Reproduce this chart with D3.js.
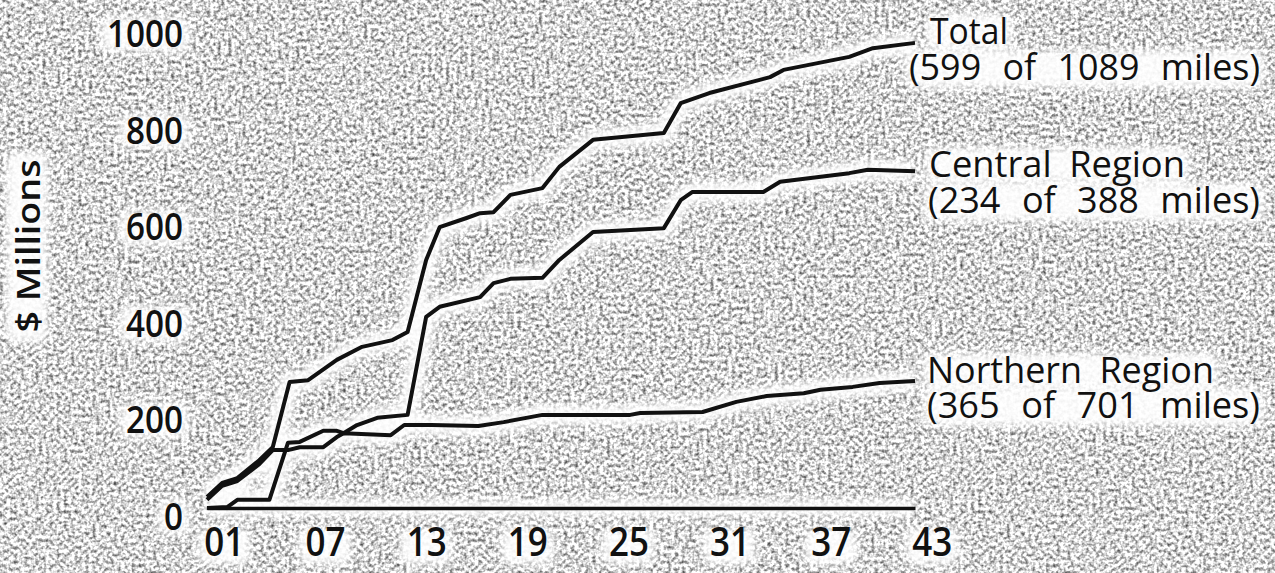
<!DOCTYPE html>
<html><head><meta charset="utf-8">
<script src="https://cdn.jsdelivr.net/npm/d3@7"></script>
<style>html,body{margin:0;padding:0;background:#d8d8d8;} svg{display:block}</style>
</head><body>
<svg id="chart" width="1275" height="573"></svg>
<script>
// ---- data ----
const xTicks = [1, 7, 13, 19, 25, 31, 37, 43];
const yTicks = [0, 200, 400, 600, 800, 1000];
const seriesNames = ["Total", "Central Region", "Northern Region"];
const seriesNotes = ["(599 of 1089 miles)", "(234 of 388 miles)", "(365 of 701 miles)"];
const yTitle = "$ Millions";

const totalSeries = [[0,23],[0.9,52],[1.8,62],[3.1,99],[3.9,126],[4.9,261],[6.0,265],[7.7,307],[9.2,334],[11.0,348],[11.9,365],[13.0,514],[13.8,582],[15.4,601],[16.2,611],[17.0,613],[18.0,649],[19.9,663],[20.9,707],[22.9,763],[27.1,777],[28.1,839],[29.8,860],[33.4,893],[34.2,908],[38.1,935],[39.5,953],[42.0,964]];
const centralSeries = [[0,0],[1.2,2],[1.8,17],[3.7,17],[4.8,135],[5.5,137],[6.9,160],[7.7,160],[8.1,155],[8.9,172],[10.1,187],[11.9,193],[13.0,396],[13.8,417],[16.2,437],[17.0,466],[18.0,475],[19.9,477],[20.9,514],[22.9,572],[27.1,580],[28.1,638],[28.8,655],[33.0,655],[34.0,676],[38.1,694],[39.2,701],[42.0,698]];
const northernSeries = [[0,17],[0.9,46],[1.8,56],[3.1,91],[3.9,120],[4.8,120],[5.5,126],[6.9,126],[7.7,147],[8.1,155],[10.9,151],[11.7,172],[13.3,172],[16.1,170],[17.6,178],[19.9,193],[25.1,193],[25.7,197],[29.4,199],[31.4,220],[33.2,232],[35.4,238],[36.4,245],[38.3,251],[39.9,259],[42.0,263]];

// ---- layout ----
const W = 1275, H = 573;
const svg = d3.select("#chart");
const x = d3.scaleLinear().domain([0, 42]).range([207, 915]);
const y = d3.scaleLinear().domain([0, 1000]).range([508, 25.5]);
const FONT = "'Open Sans','Noto Sans','DejaVu Sans',sans-serif";

const defs = svg.append("defs");
const nf = defs.append("filter").attr("id", "noise")
  .attr("filterUnits", "userSpaceOnUse").attr("x", 0).attr("y", 0).attr("width", W).attr("height", H)
  .attr("color-interpolation-filters", "sRGB");
nf.append("feTurbulence").attr("type", "fractalNoise").attr("baseFrequency", 0.28)
  .attr("numOctaves", 2).attr("seed", 11).attr("result", "t");
nf.append("feColorMatrix").attr("type", "matrix")
  .attr("values", "1.45 0 0 0 0.12  1.45 0 0 0 0.12  1.45 0 0 0 0.12  0 0 0 0 1");
const hf = defs.append("filter").attr("id", "halo")
  .attr("x", "-20%").attr("y", "-20%").attr("width", "140%").attr("height", "140%");
hf.append("feGaussianBlur").attr("stdDeviation", 4);

// background texture
svg.append("rect").attr("width", W).attr("height", H).attr("fill", "#d8d8d8");
svg.append("rect").attr("width", W).attr("height", H).attr("filter", "url(#noise)");

const haloLayer = svg.append("g").attr("filter", "url(#halo)").attr("opacity", 0.92);
const mainLayer = svg.append("g");

const line = d3.line().x(d => x(d[0])).y(d => y(d[1]));
const allSeries = [totalSeries, centralSeries, northernSeries];

// halos under lines and baseline
haloLayer.append("line").attr("x1", x(0)).attr("x2", x(42)).attr("y1", y(0)).attr("y2", y(0))
  .attr("stroke", "#fff").attr("stroke-width", 16);
allSeries.forEach(s => {
  haloLayer.append("path").attr("d", line(s)).attr("fill", "none")
    .attr("stroke", "#fff").attr("stroke-width", 20).attr("stroke-linejoin", "round");
});

// x axis
const xAxis = mainLayer.append("g").attr("transform", `translate(0,${y(0)})`)
  .call(d3.axisBottom(x).tickValues(xTicks).tickSize(0).tickPadding(20)
    .tickFormat(d => String(d).padStart(2, "0")));
xAxis.select(".domain").attr("stroke", "#111").attr("stroke-width", 3.5);
xAxis.selectAll("text").attr("font-family", FONT).attr("font-size", 40).attr("font-weight", 600)
  .attr("fill", "#111").attr("textLength", 40).attr("lengthAdjust", "spacingAndGlyphs");

// y axis
const yAxis = mainLayer.append("g").attr("transform", `translate(${x(0)},0)`)
  .call(d3.axisLeft(y).tickValues(yTicks).tickSize(0).tickPadding(24).tickFormat(d => String(d)));
yAxis.select(".domain").remove();
yAxis.selectAll("text").attr("font-family", FONT).attr("font-size", 37).attr("font-weight", 600)
  .attr("fill", "#111").attr("dy", 21)
  .attr("textLength", d => String(d).length * 19).attr("lengthAdjust", "spacingAndGlyphs");

function haloRect(x0, y0, w, h) {
  haloLayer.append("rect").attr("x", x0).attr("y", y0).attr("width", w).attr("height", h)
    .attr("rx", 8).attr("fill", "#fff");
}

// y title
mainLayer.append("text").text(yTitle)
  .attr("transform", "translate(40,246) rotate(-90)")
  .attr("font-family", FONT).attr("font-size", 33).attr("font-weight", 600).attr("fill", "#111")
  .attr("text-anchor", "middle").attr("textLength", 173).attr("lengthAdjust", "spacingAndGlyphs");
haloRect(6, 152, 42, 190);

// halos behind tick labels
xTicks.forEach(d => haloRect(x(d) - 26, y(0) + 20, 52, 36));
yTicks.forEach(d => {
  const w = String(d).length * 19 + 12;
  haloRect(189 - w, y(d) - 8, w, 34);
});

// series lines
allSeries.forEach(s => {
  mainLayer.append("path").attr("d", line(s)).attr("fill", "none")
    .attr("stroke", "#111").attr("stroke-width", 4).attr("stroke-linejoin", "round");
});

// right-hand labels: one text block per series, two lines
const labelLayout = [
  {nx: 930, ny: 44, px: 909, py: 80, nlen: 78, plen: 351},
  {nx: 929, ny: 177, px: 928, py: 213, nlen: 256, plen: 332},
  {nx: 927, ny: 383, px: 927, py: 418, nlen: 287, plen: 333}
];
seriesNames.forEach((name, i) => {
  const L = labelLayout[i];
  const t = mainLayer.append("text")
    .attr("font-family", FONT).attr("font-size", 36).attr("font-weight", 500).attr("fill", "#111");
  t.append("tspan").text(name).attr("x", L.nx).attr("y", L.ny).attr("word-spacing", 8)
    .attr("textLength", L.nlen).attr("lengthAdjust", "spacingAndGlyphs");
  t.append("tspan").text(seriesNotes[i]).attr("x", L.px).attr("y", L.py).attr("word-spacing", 12)
    .attr("textLength", L.plen).attr("lengthAdjust", "spacingAndGlyphs");
  haloRect(L.nx - 4, L.ny - 30, L.nlen + 8, 34);
  haloRect(L.px - 4, L.py - 30, L.plen + 8, 38);
});
</script>
</body></html>
